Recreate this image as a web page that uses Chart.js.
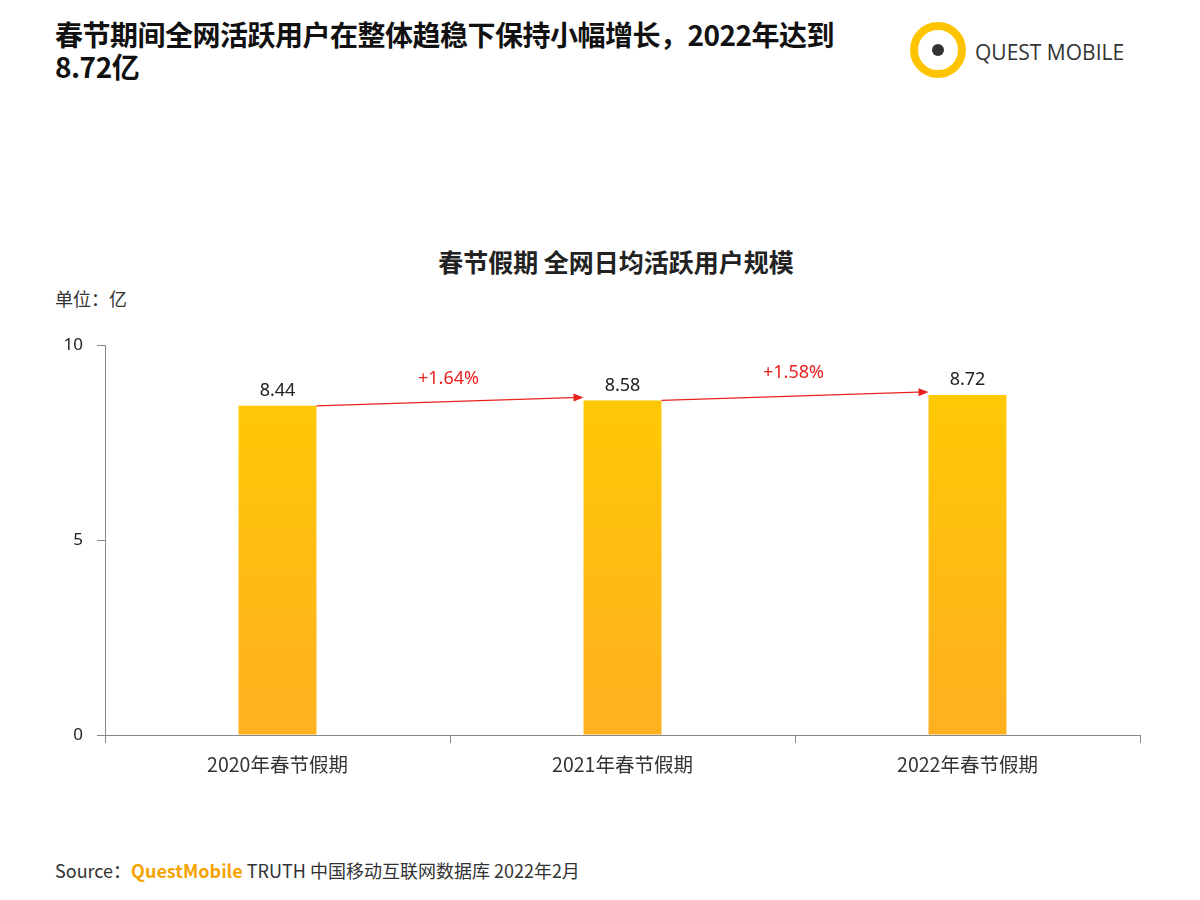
<!DOCTYPE html>
<html><head><meta charset="utf-8">
<script src="https://cdn.jsdelivr.net/npm/chart.js@4.4.0/dist/chart.umd.min.js"></script>
<style>
body{margin:0;width:1200px;height:900px;background:#fff;font-family:"Noto Sans CJK SC","Noto Sans",sans-serif;position:relative;overflow:hidden}
.t{position:absolute;white-space:nowrap}
</style></head><body>
<div class="t" style="left:55px;top:18px;font-size:28px;font-weight:bold;line-height:32px;color:#111;letter-spacing:-0.5px">春节期间全网活跃用户在整体趋稳下保持小幅增长，2022年达到<br>8.72亿</div>
<div class="t" style="left:910px;top:22px;width:56px;height:56px;border-radius:50%;border:8px solid #FFC400;box-sizing:border-box"></div>
<div class="t" style="left:932px;top:44px;width:12px;height:12px;border-radius:50%;background:#333"></div>
<div class="t" style="left:975px;top:38px;font-size:21px;color:#333;font-family:'Open Sans',sans-serif">QUEST MOBILE</div>
<div class="t" style="left:0;width:1232px;text-align:center;top:243px;font-size:25px;font-weight:bold;color:#222">春节假期 全网日均活跃用户规模</div>
<div class="t" style="left:55px;top:285px;font-size:18px;color:#333">单位：亿</div>
<div class="t" style="left:55px;top:857px;font-size:18px;color:#333">Source：<span style="color:#F5A300;font-weight:bold">QuestMobile</span> TRUTH 中国移动互联网数据库 2022年2月</div>
<canvas id="c" style="position:absolute;left:0;top:320px"></canvas>
<script>
const categories = ['2020年春节假期', '2021年春节假期', '2022年春节假期'];
const users = [8.44, 8.58, 8.72];
const growth = ['+1.64%', '+1.58%'];
const yTicks = [0, 5, 10];

const c = document.getElementById('c');
c.width = 1200; c.height = 480;

const labels = {
  id: 'labels',
  afterDatasetsDraw(chart) {
    const ctx = chart.ctx;
    const meta = chart.getDatasetMeta(0);
    ctx.save();
    ctx.font = '18px "Noto Sans", sans-serif';
    ctx.fillStyle = '#222';
    ctx.textAlign = 'center';
    ctx.textBaseline = 'bottom';
    meta.data.forEach((b, i) => ctx.fillText(users[i].toFixed(2), b.x, b.y - 6));
    for (let i = 0; i < meta.data.length - 1; i++) {
      const a = meta.data[i], b = meta.data[i + 1];
      const x1 = a.x + a.width / 2, y1 = a.y, x2 = b.x - b.width / 2 - 3, y2 = b.y - 3;
      ctx.strokeStyle = '#E8221E'; ctx.fillStyle = '#E8221E'; ctx.lineWidth = 1.3;
      ctx.beginPath(); ctx.moveTo(x1, y1); ctx.lineTo(x2, y2); ctx.stroke();
      const ang = Math.atan2(y2 - y1, x2 - x1);
      ctx.beginPath(); ctx.moveTo(x2 + 3, y2);
      ctx.lineTo(x2 - 7 * Math.cos(ang) + 4 * Math.sin(ang), y2 - 4 - 7 * Math.sin(ang));
      ctx.lineTo(x2 - 7 * Math.cos(ang) - 4 * Math.sin(ang), y2 + 4 - 7 * Math.sin(ang));
      ctx.fill();
      ctx.fillText(growth[i], (x1 + x2) / 2, Math.min(y1, y2) - 10);
    }
    ctx.restore();
  }
};

new Chart(c, {
  type: 'bar',
  data: {
    labels: categories,
    datasets: [{
      data: users,
      backgroundColor: (ctx) => {
        const area = ctx.chart.chartArea;
        if (!area) return '#FFC400';
        const g = ctx.chart.ctx.createLinearGradient(0, area.top, 0, area.bottom);
        g.addColorStop(0, '#FFCC00'); g.addColorStop(1, '#FFB020');
        return g;
      },
      categoryPercentage: 1, barPercentage: 0.226
    }]
  },
  options: {
    responsive: false, animation: false,
    layout: { padding: { top: 25, right: 60 } },
    plugins: { legend: { display: false }, tooltip: { enabled: false } },
    scales: {
      y: {
        min: 0, max: 10,
        afterFit: s => { s.width = 105; },
        afterBuildTicks: s => { s.ticks = yTicks.map(v => ({ value: v })); },
        grid: { drawOnChartArea: false, tickLength: 8, color: '#888' },
        border: { color: '#888' },
        ticks: { font: { size: 17, family: '"Noto Sans"' }, color: '#222', padding: 14 }
      },
      x: {
        afterFit: s => { s.height = 65; },
        grid: { drawOnChartArea: false, offset: true, tickLength: 8, color: '#888' },
        border: { color: '#888' },
        ticks: { font: { size: 19.5, family: '"Noto Sans CJK SC"' }, color: '#333', padding: 10 }
      }
    }
  },
  plugins: [labels]
});
</script>
</body></html>
